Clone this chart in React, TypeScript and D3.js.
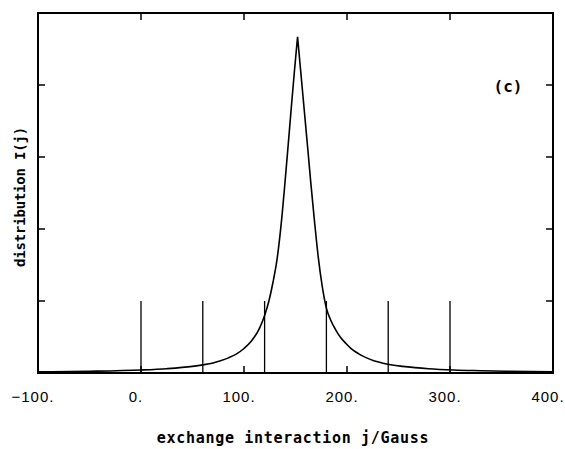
import React from "react";
import * as d3 from "d3";

// distribution curve I(j)
const curveJ = [-100, -50, 0, 25, 50, 60, 70, 78, 85, 92, 100, 107, 115, 120, 124, 128, 132, 137, 140, 142.5, 146, 149, 152, 155, 158.5, 162, 165, 168.5, 172, 176, 180, 184, 189, 194, 199, 204, 211, 219, 226, 234, 244, 254, 266, 279, 304, 330, 354, 400];
const curveI = [0.015, 0.024, 0.042, 0.06, 0.092, 0.113, 0.14, 0.173, 0.21, 0.258, 0.34, 0.44, 0.62, 0.8, 0.99, 1.25, 1.57, 2.2, 2.68, 3.1, 3.7, 4.2, 4.67, 4.2, 3.65, 3.1, 2.62, 2.1, 1.62, 1.2, 0.9, 0.74, 0.6, 0.49, 0.41, 0.34, 0.27, 0.21, 0.17, 0.14, 0.11, 0.092, 0.075, 0.06, 0.042, 0.032, 0.024, 0.016];

// stick lines
const stickJ = [0, 60, 120, 180, 240, 300];
const stickI = [1, 1, 1, 1, 1, 1];

const xTicks = [-100, 0, 100, 200, 300, 400];
const xTickLabels = ["\u2212100.", "0.", "100.", "200.", "300.", "400."];
const yTicks = [1, 2, 3, 4];

const width = 565;
const height = 449;
const marginLeft = 38;
const marginRight = 12;
const marginTop = 13;
const marginBottom = 76;

export default function App() {
  const x = d3.scaleLinear().domain([-100, 400]).range([marginLeft, width - marginRight]);
  const y = d3.scaleLinear().domain([0, 5]).range([height - marginBottom, marginTop]);

  const pts = curveJ.map((j, i) => [j, curveI[i]] as [number, number]);
  // split at the maximum so the cusp stays sharp
  const peak = d3.maxIndex(curveI);
  const line = d3.line<[number, number]>()
    .x(d => x(d[0]))
    .y(d => y(d[1]))
    .curve(d3.curveMonotoneX);
  const d = (line(pts.slice(0, peak + 1)) ?? "") + (line(pts.slice(peak)) ?? "");

  const x0 = x.range()[0], x1 = x.range()[1];
  const y0 = y.range()[0], y1 = y.range()[1];
  const labelFont = "'DejaVu Sans Mono', monospace";

  return (
    <svg width={width} height={height} style={{ position: "absolute", left: 0, top: 0, background: "#fff" }}>
      {/* curve */}
      <path d={d} fill="none" stroke="#000" strokeWidth={1.6} strokeLinejoin="round" />

      {/* sticks */}
      {stickJ.map((j, i) => (
        <line key={"s" + i} x1={x(j)} x2={x(j)} y1={y(0)} y2={y(stickI[i])} stroke="#000" strokeWidth={1.3} />
      ))}

      {/* frame */}
      <rect x={x0} y={y1} width={x1 - x0} height={y0 - y1} fill="none" stroke="#000" strokeWidth={2} />

      {/* x ticks, bottom and top, inward */}
      {xTicks.slice(1, -1).map(v => (
        <g key={"xt" + v}>
          <line x1={x(v)} x2={x(v)} y1={y0} y2={y0 - 7} stroke="#000" strokeWidth={1.5} />
          <line x1={x(v)} x2={x(v)} y1={y1} y2={y1 + 7} stroke="#000" strokeWidth={1.5} />
        </g>
      ))}
      {xTicks.map((v, i) => (
        <text key={"xl" + v} x={x(v) - 5} y={402} textAnchor="middle"
          fontFamily="'Liberation Sans', Arial, sans-serif" fontSize={15} letterSpacing={1}>
          {xTickLabels[i]}
        </text>
      ))}

      {/* y ticks, left and right, inward */}
      {yTicks.map(v => (
        <g key={"yt" + v}>
          <line x1={x0} x2={x0 + 7} y1={y(v)} y2={y(v)} stroke="#000" strokeWidth={1.5} />
          <line x1={x1} x2={x1 - 7} y1={y(v)} y2={y(v)} stroke="#000" strokeWidth={1.5} />
        </g>
      ))}

      {/* panel label */}
      <text x={508} y={92} textAnchor="middle" fontFamily={labelFont} fontWeight="bold" fontSize={16}>(c)</text>

      {/* axis titles */}
      <text x={293} y={443} textAnchor="middle" fontFamily={labelFont} fontWeight="bold" fontSize={15} letterSpacing={0.7}>
        exchange interaction j/Gauss
      </text>
      <text transform="translate(25,197) rotate(-90)" textAnchor="middle" fontFamily={labelFont} fontWeight="bold" fontSize={14} letterSpacing={-0.2}>
        distribution I(j)
      </text>
    </svg>
  );
}
